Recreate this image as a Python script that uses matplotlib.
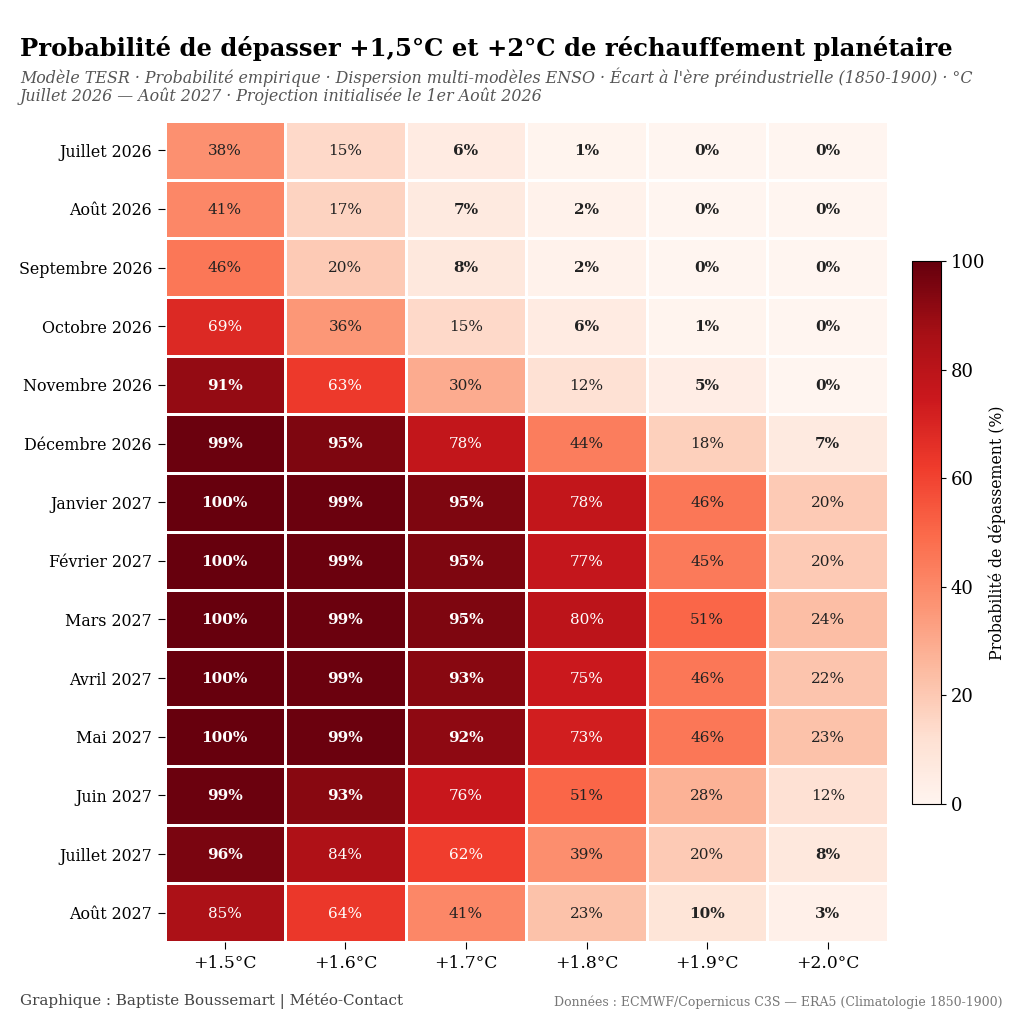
import numpy as np
import matplotlib
matplotlib.use("Agg")
import matplotlib.pyplot as plt

plt.rcParams['font.family'] = 'DejaVu Serif'

months = ["Juillet 2026", "Août 2026", "Septembre 2026", "Octobre 2026", "Novembre 2026",
          "Décembre 2026", "Janvier 2027", "Février 2027", "Mars 2027", "Avril 2027",
          "Mai 2027", "Juin 2027", "Juillet 2027", "Août 2027"]
thresholds = ["+1.5°C", "+1.6°C", "+1.7°C", "+1.8°C", "+1.9°C", "+2.0°C"]

p15 = [38, 41, 46, 69, 91, 99, 100, 100, 100, 100, 100, 99, 96, 85]
p16 = [15, 17, 20, 36, 63, 95, 99, 99, 99, 99, 99, 93, 84, 64]
p17 = [6, 7, 8, 15, 30, 78, 95, 95, 95, 93, 92, 76, 62, 41]
p18 = [1, 2, 2, 6, 12, 44, 78, 77, 80, 75, 73, 51, 39, 23]
p19 = [0, 0, 0, 1, 5, 18, 46, 45, 51, 46, 46, 28, 20, 10]
p20 = [0, 0, 0, 0, 0, 7, 20, 20, 24, 22, 23, 12, 8, 3]

data = np.array([p15, p16, p17, p18, p19, p20]).T

fig = plt.figure(figsize=(10.24, 10.09), dpi=100)
ax = fig.add_axes([164.5/1024, 1-942/1009, (888-164.5)/1024, (942-121)/1009])

im = ax.pcolormesh(data, cmap='Reds', vmin=0, vmax=100, edgecolors='white', linewidth=0.8)
ax.invert_yaxis()
ax.set_xticks(np.arange(6) + 0.5)
ax.set_xticklabels(thresholds, fontsize=12.3)
ax.set_yticks(np.arange(14) + 0.5)
ax.set_yticklabels(months, fontsize=11.4)
ax.tick_params(length=5, width=0.8, pad=4)
for s in ax.spines.values():
    s.set_visible(False)

# bold for the very high and the very low values
for i in range(data.shape[0]):
    for j in range(data.shape[1]):
        v = data[i, j]
        col = 'white' if v > 55 else '#222222'
        w = 'bold' if (v > 90 or v <= 10) else 'normal'
        ax.text(j + 0.5, i + 0.515, f"{v}%", ha='center', va='center',
                color=col, fontweight=w, fontsize=11)

cax = fig.add_axes([912/1024, 1-804/1009, 29/1024, (804-261)/1009])
cbar = fig.colorbar(im, cax=cax)
cbar.set_label("Probabilité de dépassement (%)", fontsize=11.3, labelpad=2)
cbar.ax.tick_params(labelsize=13)
cbar.solids.set_edgecolor('face')

fig.text(20/1024, 1-48.5/1009, "Probabilité de dépasser +1,5°C et +2°C de réchauffement planétaire",
         fontsize=17.45, fontweight='bold', va='center', color='black')
fig.text(20/1024, 1-77/1009, "Modèle TESR · Probabilité empirique · Dispersion multi-modèles ENSO · Écart à l'ère préindustrielle (1850-1900) · °C",
         fontsize=11.48, style='italic', va='center', color='#555555')
fig.text(20/1024, 1-96/1009, "Juillet 2026 — Août 2027 · Projection initialisée le 1er Août 2026",
         fontsize=11.48, style='italic', va='center', color='#555555')
fig.text(20/1024, 1-1001/1009, "Graphique : Baptiste Boussemart | Météo-Contact",
         fontsize=10.9, va='center', color='#444444')
fig.text(1003/1024, 1-1002/1009, "Données : ECMWF/Copernicus C3S — ERA5 (Climatologie 1850-1900)",
         fontsize=9.0, va='center', ha='right', color='#777777')

fig.savefig("out.png", dpi=100)
